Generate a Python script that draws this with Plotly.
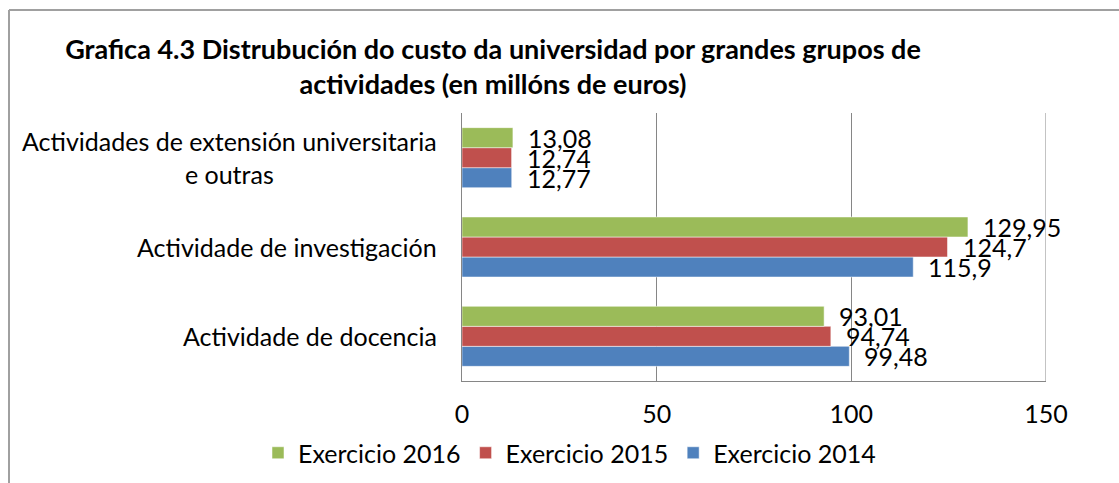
import plotly.graph_objects as go

categories = ["Actividade de docencia", "Actividade de investigación",
              "Actividades de extensión universitaria<br>e outras"]
series_names = ["Exercicio 2014", "Exercicio 2015", "Exercicio 2016"]
values_2014 = [99.48, 115.9, 12.77]
values_2015 = [94.74, 124.7, 12.74]
values_2016 = [93.01, 129.95, 13.08]
x_ticks = [0, 50, 100, 150]
title_text = ("Grafica 4.3 Distrubución do custo da universidad por grandes grupos de"
              "<br>actividades (en millóns de euros)")

colors = ["#4F81BD", "#C0504D", "#9BBB59"]
all_values = [values_2014, values_2015, values_2016]

FONT = "Lato"
FS = 25
W, H = 1119, 483
L, R, T, B = 462, 73, 113, 102
pw, ph = W - L - R, H - T - B

def px_x(p):
    return (p - L) / pw

def px_y(p):
    return (H - B - p) / ph

fig = go.Figure()
for name, vals, col in zip(series_names, all_values, colors):
    fig.add_trace(go.Bar(
        y=categories, x=vals, name=name, orientation="h",
        marker=dict(color=col, line=dict(color="rgba(255,255,255,0.5)", width=1)),
    ))

# data labels
band = ph / len(categories)
bargap = 0.328
bar_h = band * (1 - bargap) / 3
ann = []
for i, (vals, col) in enumerate(zip(all_values, colors)):
    shift = (i - 1) * bar_h
    for c, v in zip(categories, vals):
        ann.append(dict(x=v, y=c, xref="x", yref="y", text=f"{v:g}".replace(".", ","),
                        showarrow=False, xanchor="left", yanchor="middle",
                        xshift=14, yshift=shift, borderpad=0,
                        font=dict(family=FONT, size=FS, color="#000000")))

# category labels (centered multi-line like original)
for c in categories:
    ann.append(dict(x=px_x(438), y=c, xref="paper", yref="y", text=c, showarrow=False,
                    xanchor="right", yanchor="middle", align="center", borderpad=0,
                    font=dict(family=FONT, size=FS, color="#000000")))

fig.update_layout(
    width=W, height=H,
    margin=dict(l=L, r=R, t=T, b=B, autoexpand=False),
    paper_bgcolor="white", plot_bgcolor="white",
    barmode="group", bargap=bargap, bargroupgap=0,
    title=dict(text=title_text, x=493 / W, xref="container", xanchor="center",
               y=1 - 59 / H, yref="container", yanchor="middle",
               font=dict(family=FONT, size=27, color="#000000", weight="bold")),
    xaxis=dict(range=[0, 150], tickvals=x_ticks, showgrid=True, gridcolor="#868686",
               gridwidth=1, showline=True, linecolor="#868686", linewidth=1, mirror=False,
               zeroline=False, ticks="", tickfont=dict(family=FONT, size=FS, color="#000000"),
               ticklabelstandoff=11),
    yaxis=dict(showticklabels=False, showline=True, linecolor="#868686", linewidth=1,
               showgrid=False, zeroline=False, ticks=""),
    legend=dict(orientation="h", traceorder="reversed", x=px_x(258), xanchor="left",
                y=px_y(453), yanchor="middle", font=dict(family=FONT, size=FS, color="#000000"),
                itemwidth=30),
    annotations=ann,
    shapes=[
        dict(type="line", xref="paper", yref="paper", x0=px_x(9), x1=px_x(1130),
             y0=px_y(10), y1=px_y(10), line=dict(color="#A0A0A0", width=2)),
        dict(type="line", xref="paper", yref="paper", x0=px_x(9), x1=px_x(9),
             y0=px_y(10), y1=px_y(500), line=dict(color="#A0A0A0", width=2)),
        dict(type="line", xref="x", yref="paper", x0=150, x1=150, y0=0, y1=1,
             line=dict(color="#868686", width=1)),
    ],
)

fig.write_html("out.html", config={"displayModeBar": False},
               post_script="document.body.style.margin='0';")
